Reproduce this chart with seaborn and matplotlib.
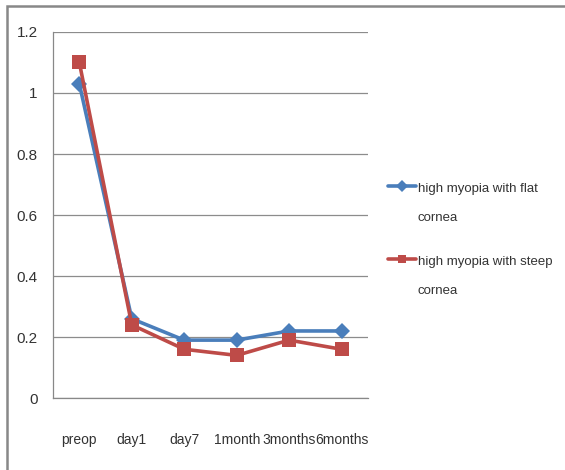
import pandas as pd
import matplotlib.pyplot as plt
import seaborn as sns
from matplotlib.patches import Rectangle
from matplotlib.lines import Line2D
from matplotlib.legend_handler import HandlerLine2D

# data
timepoints = ["preop", "day1", "day7", "1month", "3months", "6months"]
flat_cornea = [1.03, 0.26, 0.19, 0.19, 0.22, 0.22]
steep_cornea = [1.10, 0.24, 0.16, 0.14, 0.19, 0.16]
series_names = ["high myopia with flat\ncornea", "high myopia with steep\ncornea"]

df = pd.DataFrame({
    "time": timepoints * 2,
    "value": flat_cornea + steep_cornea,
    "group": [series_names[0]] * 6 + [series_names[1]] * 6,
})


# Excel puts the legend key next to the first line of a wrapped label
class TopLineHandler(HandlerLine2D):
    def create_artists(self, legend, orig_handle, xdescent, ydescent,
                       width, height, fontsize, trans):
        artists = super().create_artists(legend, orig_handle, xdescent, ydescent,
                                         width, height, fontsize, trans)
        for a in artists:
            a.set_ydata([y + 12.2 for y in a.get_ydata()])
        return artists


sns.set_style("white")
plt.rcParams["font.family"] = ["Liberation Sans", "DejaVu Sans"]

fig = plt.figure(figsize=(5.65, 4.7), dpi=100)
ax = fig.add_axes([0.094, 0.153, 0.557, 0.779])

# outer chart frame, cut off at the right and bottom like the screenshot
fig.patches.append(Rectangle((7 / 565, -0.1), 1.2, 1 - 6 / 470 + 0.1,
                             transform=fig.transFigure, fill=False,
                             edgecolor="#888888", linewidth=1.8))

sns.lineplot(data=df, x="time", y="value", hue="group", style="group",
             palette=["#4A7EBB", "#BE4B48"], markers=["D", "s"], dashes=False,
             linewidth=2.6, markersize=10, markeredgewidth=0, ax=ax, sort=False)
ax.lines[0].set_markersize(8)

ax.set_xlim(-0.5, 5.5)
ax.set_ylim(0, 1.2)
ax.set_yticks([0, 0.2, 0.4, 0.6, 0.8, 1.0, 1.2])
ax.set_yticklabels(["0", "0.2", "0.4", "0.6", "0.8", "1", "1.2"])
ax.set_xticks(range(6))
ax.set_xticklabels(timepoints)
ax.set_xticks([i - 0.5 for i in range(7)], minor=True)
ax.tick_params(axis="x", which="major", length=0, pad=25, labelsize=10, labelcolor="#333333")
ax.tick_params(axis="x", which="minor", length=5, color="#888888", direction="out")
ax.tick_params(axis="y", length=5, color="#888888", direction="out", pad=6,
               labelsize=11, labelcolor="#333333")
ax.grid(axis="y", color="#8c8c8c", linewidth=0.9)
for side in ["top", "right"]:
    ax.spines[side].set_visible(False)
for side in ["left", "bottom"]:
    ax.spines[side].set_color("#888888")
    ax.spines[side].set_linewidth(0.9)
ax.set_xlabel("")
ax.set_ylabel("")

leg = ax.legend(loc="center left", bbox_to_anchor=(1.063, 0.432), frameon=False,
                fontsize=9.5, handlelength=2.15, handletextpad=0.15, labelspacing=2.45,
                borderpad=0, borderaxespad=0, markerscale=0.6, title=None,
                handler_map={Line2D: TopLineHandler()})
for t in leg.get_texts():
    t.set_linespacing(2.85)
    t.set_color("#333333")

fig.savefig("out.png", dpi=100)
